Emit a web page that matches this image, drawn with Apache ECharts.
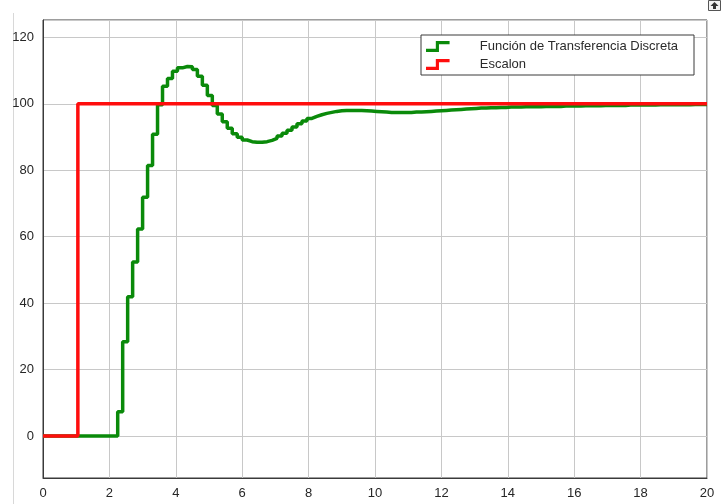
<!DOCTYPE html>
<html>
<head>
<meta charset="utf-8">
<script src="https://cdn.jsdelivr.net/npm/echarts@6/dist/echarts.min.js"></script>
<style>
html,body{margin:0;padding:0;background:#fff;}
#chart{width:723px;height:504px;}
</style>
</head>
<body>
<div id="chart"></div>
<script>
// Data
const sampleTime = 0.15;
const responseValues = [
  0,0,0,0,0,0,0,0,0,0,0,0,0,0,0,
  7.3,28.4,41.9,52.4,62.3,71.9,81.4,90.8,99.7,105.3,
  107.6,109.8,110.8,111.2,111.1,110.3,108.3,105.6,102.5,99.5,
  96.9,94.6,92.6,91.0,89.9,89.1,88.6,88.4,88.4,88.6,
  89.0,89.6,90.3,91.1,92.0,93.0,94.0,94.8,95.6,96.2,
  96.7,97.1,97.4,97.7,97.9,98.0,98.0,98.0,98.0,97.9,
  97.8,97.7,97.6,97.5,97.4,97.4,97.4,97.4,97.4,97.5,
  97.5,97.6,97.7,97.8,97.9,98.0,98.1,98.2,98.3,98.4,
  98.5,98.6,98.7,98.7,98.8,98.8,98.9,98.9,99.0,99.0,
  99.0,99.1,99.1,99.1,99.1,99.2,99.2,99.2,99.2,99.3,
  99.3,99.3,99.3,99.4,99.4,99.4,99.4,99.5,99.5,99.5,
  99.5,99.5,99.6,99.6,99.6,99.6,99.6,99.6,99.7,99.7,
  99.7,99.7,99.7,99.7,99.7,99.8,99.8,99.8,99.8
];
const stepTimes = [0, 1.05, 20];
const stepValues = [0, 100, 100];
const xTicks = [0, 2, 4, 6, 8, 10, 12, 14, 16, 18, 20];
const yTicks = [0, 20, 40, 60, 80, 100, 120];
const seriesNames = ['Función de Transferencia Discreta', 'Escalon'];

const greenData = responseValues.map((v, k) => [+(k * sampleTime).toFixed(2), v]);
greenData.push([20, responseValues[responseValues.length - 1]]);
const redData = stepTimes.map((t, i) => [t, stepValues[i]]);

const chart = echarts.init(document.getElementById('chart'), null, {renderer: 'canvas'});
const stepIcon = 'path://M0,8 L10,8 L10,0 L24,0 L24,3.2 L13.2,3.2 L13.2,11.2 L0,11.2 Z';

chart.setOption({
  animation: false,
  backgroundColor: '#ffffff',
  textStyle: {fontFamily: 'Liberation Sans, Arial, sans-serif'},
  grid: {
    left: 43, right: 16, top: 20, bottom: 26,
    show: true, borderColor: '#3a3a3a', borderWidth: 1, backgroundColor: '#ffffff'
  },
  legend: {
    orient: 'vertical',
    left: 421, top: 35,
    backgroundColor: '#ffffff',
    borderColor: '#3a3a3a',
    borderWidth: 1,
    padding: [5, 16, 4, 5],
    itemGap: 5,
    itemWidth: 24,
    itemHeight: 11,
    data: [
      {name: seriesNames[0], icon: stepIcon},
      {name: seriesNames[1], icon: stepIcon}
    ],
    textStyle: {fontSize: 13, color: '#2b2b2b', padding: [0, 0, 0, 25]}
  },
  xAxis: {
    type: 'value',
    min: 0, max: 20, interval: 2,
    axisLine: {show: true, onZero: false, lineStyle: {color: '#3a3a3a', width: 1}},
    axisTick: {show: false},
    axisLabel: {color: '#262626', fontSize: 13, margin: 9, customValues: xTicks},
    splitLine: {show: true, lineStyle: {color: '#c8c8c8', width: 1}}
  },
  yAxis: {
    type: 'value',
    min: -12.6, max: 125.2,
    minInterval: 20, maxInterval: 20, splitNumber: 7,
    axisLine: {show: true, onZero: false, lineStyle: {color: '#3a3a3a', width: 1}},
    axisTick: {show: false},
    axisLabel: {color: '#262626', fontSize: 13, margin: 9, customValues: yTicks},
    splitLine: {show: true, lineStyle: {color: '#c8c8c8', width: 1}}
  },
  graphic: [
    {type: 'line', shape: {x1: 13.5, y1: 13, x2: 13.5, y2: 504}, style: {stroke: '#d8d8d8', lineWidth: 1}, silent: true},
    {type: 'rect', shape: {x: 708.5, y: 0.5, width: 12, height: 10}, style: {fill: '#f4f4f4', stroke: '#555', lineWidth: 1}, silent: true},
    {type: 'polygon', shape: {points: [[714.5, 2], [718.5, 6], [716, 6], [716, 9], [713, 9], [713, 6], [710.5, 6]]}, style: {fill: '#333'}, silent: true}
  ],
  series: [
    {
      name: seriesNames[0],
      type: 'line',
      step: 'end',
      showSymbol: false,
      data: greenData,
      lineStyle: {color: '#0a8a0a', width: 3.5},
      itemStyle: {color: '#0a8a0a'},
      z: 2
    },
    {
      name: seriesNames[1],
      type: 'line',
      step: 'end',
      showSymbol: false,
      data: redData,
      lineStyle: {color: '#ff0d0d', width: 3.5},
      itemStyle: {color: '#ff0d0d'},
      z: 3
    }
  ]
});
</script>
</body>
</html>
